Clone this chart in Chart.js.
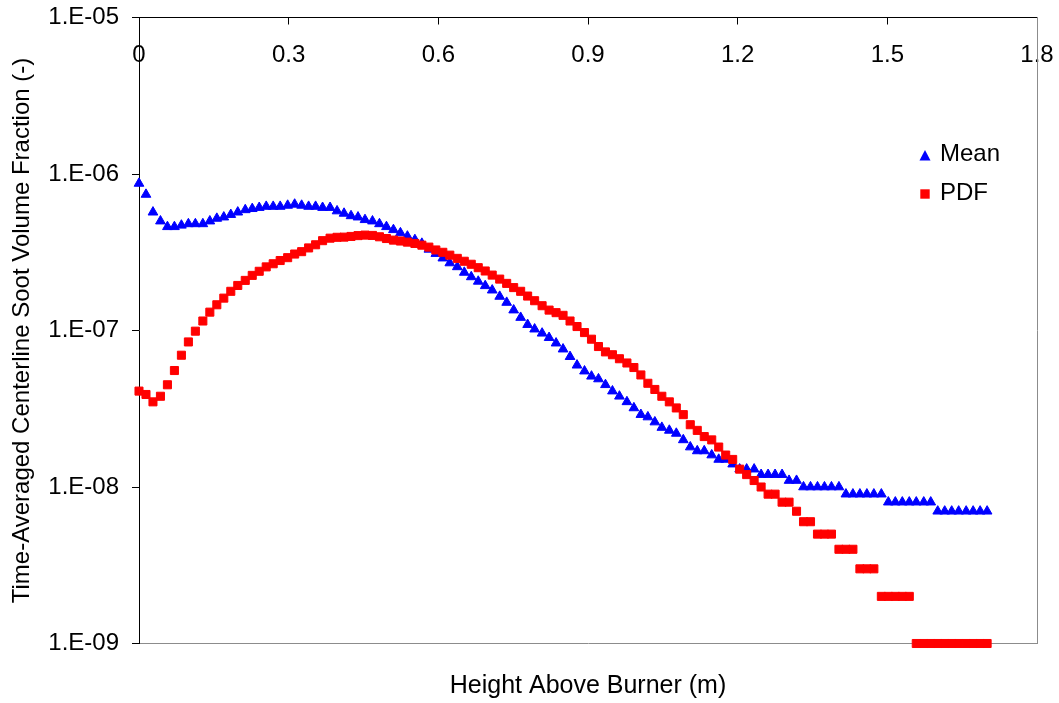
<!DOCTYPE html>
<html>
<head>
<meta charset="utf-8">
<title>Centerline soot volume fraction</title>
<script src="https://cdn.jsdelivr.net/npm/chart.js@4.4.1/dist/chart.umd.min.js"></script>
<style>
    html, body { margin: 0; padding: 0; background: #fff; }
    #wrap { width: 1059px; height: 703px; }
</style>
</head>
<body>
<div id="wrap"><canvas id="sootChart" width="1059" height="703"></canvas></div>
<script>
// Height above burner (m), one entry per marker
var heights = [
    0, 0.014, 0.028, 0.043, 0.057, 0.071, 0.085, 0.099, 0.113, 0.128,
    0.142, 0.156, 0.170, 0.184, 0.198, 0.213, 0.227, 0.241, 0.255, 0.269,
    0.283, 0.298, 0.312, 0.326, 0.340, 0.354, 0.368, 0.383, 0.397, 0.411,
    0.425, 0.439, 0.453, 0.468, 0.482, 0.496, 0.510, 0.524, 0.538, 0.553,
    0.567, 0.581, 0.595, 0.609, 0.623, 0.638, 0.652, 0.666, 0.680, 0.694,
    0.708, 0.723, 0.737, 0.751, 0.765, 0.779, 0.793, 0.808, 0.822, 0.836,
    0.850, 0.864, 0.878, 0.893, 0.907, 0.921, 0.935, 0.949, 0.963, 0.978,
    0.992, 1.006, 1.020, 1.034, 1.048, 1.063, 1.077, 1.091, 1.105, 1.119,
    1.133, 1.148, 1.162, 1.176, 1.190, 1.204, 1.218, 1.233, 1.247, 1.261,
    1.275, 1.289, 1.303, 1.318, 1.332, 1.346, 1.360, 1.374, 1.388, 1.403,
    1.417, 1.431, 1.445, 1.459, 1.473, 1.488, 1.502, 1.516, 1.530, 1.544,
    1.558, 1.573, 1.587, 1.601, 1.615, 1.629, 1.643, 1.658, 1.672, 1.686,
    1.700
];

var meanSoot = [
    8.7e-7, 7.4e-7, 5.7e-7, 5.0e-7, 4.6e-7, 4.6e-7, 4.7e-7, 4.8e-7, 4.8e-7, 4.8e-7,
    5.0e-7, 5.2e-7, 5.3e-7, 5.5e-7, 5.7e-7, 5.9e-7, 6.0e-7, 6.1e-7, 6.2e-7, 6.2e-7,
    6.2e-7, 6.3e-7, 6.4e-7, 6.3e-7, 6.2e-7, 6.2e-7, 6.1e-7, 6.1e-7, 5.8e-7, 5.6e-7,
    5.4e-7, 5.3e-7, 5.1e-7, 5.0e-7, 4.8e-7, 4.6e-7, 4.4e-7, 4.2e-7, 4.0e-7, 3.8e-7,
    3.6e-7, 3.3e-7, 3.1e-7, 2.9e-7, 2.7e-7, 2.55e-7, 2.35e-7, 2.2e-7, 2.06e-7, 1.93e-7,
    1.81e-7, 1.65e-7, 1.51e-7, 1.35e-7, 1.21e-7, 1.09e-7, 1.02e-7, 9.6e-8, 9.0e-8, 8.3e-8,
    7.6e-8, 6.8e-8, 6.0e-8, 5.5e-8, 5.1e-8, 4.9e-8, 4.5e-8, 4.1e-8, 3.8e-8, 3.5e-8,
    3.2e-8, 2.9e-8, 2.8e-8, 2.6e-8, 2.4e-8, 2.3e-8, 2.2e-8, 2.0e-8, 1.8e-8, 1.7e-8,
    1.7e-8, 1.6e-8, 1.5e-8, 1.5e-8, 1.4e-8, 1.3e-8, 1.3e-8, 1.3e-8, 1.2e-8, 1.2e-8,
    1.2e-8, 1.2e-8, 1.1e-8, 1.1e-8, 1.0e-8, 1.0e-8, 1.0e-8, 1.0e-8, 1.0e-8, 1.0e-8,
    9e-9, 9e-9, 9e-9, 9e-9, 9e-9, 9e-9, 8e-9, 8e-9, 8e-9, 8e-9,
    8e-9, 8e-9, 8e-9, 7e-9, 7e-9, 7e-9, 7e-9, 7e-9, 7e-9, 7e-9,
    7e-9
];

var pdfSoot = [
    4.1e-8, 3.9e-8, 3.5e-8, 3.8e-8, 4.5e-8, 5.55e-8, 6.95e-8, 8.45e-8, 9.9e-8, 1.15e-7,
    1.31e-7, 1.46e-7, 1.61e-7, 1.78e-7, 1.94e-7, 2.09e-7, 2.25e-7, 2.39e-7, 2.55e-7, 2.67e-7,
    2.8e-7, 2.92e-7, 3.08e-7, 3.19e-7, 3.37e-7, 3.53e-7, 3.75e-7, 3.89e-7, 3.94e-7, 3.95e-7,
    3.99e-7, 4.04e-7, 4.07e-7, 4.05e-7, 3.97e-7, 3.87e-7, 3.78e-7, 3.73e-7, 3.67e-7, 3.6e-7,
    3.51e-7, 3.41e-7, 3.27e-7, 3.16e-7, 3.03e-7, 2.89e-7, 2.77e-7, 2.65e-7, 2.52e-7, 2.4e-7,
    2.26e-7, 2.13e-7, 2.0e-7, 1.88e-7, 1.78e-7, 1.66e-7, 1.55e-7, 1.44e-7, 1.35e-7, 1.3e-7,
    1.25e-7, 1.15e-7, 1.06e-7, 9.7e-8, 8.8e-8, 7.9e-8, 7.3e-8, 7.0e-8, 6.6e-8, 6.2e-8,
    5.8e-8, 5.2e-8, 4.6e-8, 4.2e-8, 3.8e-8, 3.5e-8, 3.2e-8, 2.9e-8, 2.5e-8, 2.3e-8,
    2.1e-8, 2.0e-8, 1.8e-8, 1.6e-8, 1.5e-8, 1.3e-8, 1.2e-8, 1.1e-8, 1.0e-8, 9e-9,
    9e-9, 8e-9, 8e-9, 7e-9, 6e-9, 6e-9, 5e-9, 5e-9, 5e-9, 4e-9,
    4e-9, 4e-9, 3e-9, 3e-9, 3e-9, 2e-9, 2e-9, 2e-9, 2e-9, 2e-9,
    1e-9, 1e-9, 1e-9, 1e-9, 1e-9, 1e-9, 1e-9, 1e-9, 1e-9, 1e-9,
    1e-9
];

var seriesNames = ['Mean', 'PDF'];
var xTicks = [0, 0.3, 0.6, 0.9, 1.2, 1.5, 1.8];
var xTickLabels = ['0', '0.3', '0.6', '0.9', '1.2', '1.5', '1.8'];
var yTicks = [1e-9, 1e-8, 1e-7, 1e-6, 1e-5];
var yTickLabels = ['1.E-09', '1.E-08', '1.E-07', '1.E-06', '1.E-05'];

(function () {
    var FONT = "'Liberation Sans', Arial, sans-serif";
    var FONT_SIZE = 24;
    var BLUE = '#0000ff';
    var RED = '#ff0000';
    var FRAME_GREY = '#8c8c8c';

    Chart.defaults.font.family = FONT;
    Chart.defaults.font.size = FONT_SIZE;
    Chart.defaults.color = '#000';

    function points(values) {
        return heights.map(function (h, i) { return { x: h, y: values[i] }; });
    }

    function fixedTicks(values) {
        return function (scale) {
            scale.ticks = values.map(function (v) { return { value: v }; });
        };
    }

    // pin an axis box to a fixed size and stop its labels from pushing the plot area in
    function pinSize(prop, size) {
        return function (s) {
            s[prop] = size;
            s.paddingLeft = s.paddingRight = s.paddingTop = s.paddingBottom = 0;
        };
    }

    // legend sits inside the plot area, top right, like the Excel original
    var insetLegend = {
        id: 'insetLegend',
        afterDraw: function (chart) {
            var ctx = chart.ctx;
            var area = chart.chartArea;
            var x = area.right - 112;
            ctx.save();
            ctx.font = FONT_SIZE + 'px ' + FONT;
            ctx.textBaseline = 'middle';
            chart.data.datasets.forEach(function (ds, i) {
                var y = area.top + 138 + i * 38.5;
                ctx.fillStyle = ds.backgroundColor;
                ctx.beginPath();
                if (ds.pointStyle === 'triangle') {
                    ctx.moveTo(x, y - 5.5);
                    ctx.lineTo(x + 5.5, y + 5);
                    ctx.lineTo(x - 5.5, y + 5);
                    ctx.closePath();
                } else {
                    ctx.rect(x - 4.7, y - 4.7, 9.4, 9.4);
                }
                ctx.fill();
                ctx.fillStyle = '#000';
                ctx.fillText(ds.label, x + 15, y - 1);
            });
            ctx.restore();
        }
    };

    var el = document.getElementById('sootChart');
    new Chart(el, {
        type: 'scatter',
        data: {
            datasets: [
                {
                    label: seriesNames[0],
                    data: points(meanSoot),
                    pointStyle: 'triangle',
                    pointRadius: 5.6,
                    borderWidth: 1,
                    backgroundColor: BLUE,
                    borderColor: BLUE,
                    showLine: false,
                    clip: false,
                    order: 1
                },
                {
                    label: seriesNames[1],
                    data: points(pdfSoot),
                    pointStyle: 'rect',
                    pointRadius: 5.7,
                    borderWidth: 1,
                    backgroundColor: RED,
                    borderColor: RED,
                    showLine: false,
                    clip: false,
                    order: 0
                }
            ]
        },
        options: {
            responsive: false,
            animation: false,
            devicePixelRatio: 1,
            layout: { padding: 0 },
            plugins: {
                legend: { display: false },
                tooltip: { enabled: false }
            },
            scales: {
                x: {
                    type: 'linear',
                    position: 'top',
                    min: 0,
                    max: 1.8,
                    afterBuildTicks: fixedTicks(xTicks),
                    afterFit: pinSize('height', 17.5),
                    ticks: {
                        mirror: true,
                        padding: 23,
                        autoSkip: false,
                        maxRotation: 0,
                        callback: function (v, i) { return xTickLabels[i]; }
                    },
                    grid: { drawOnChartArea: false, tickLength: -7, color: '#000', lineWidth: 1 },
                    border: { color: '#000', width: 1 }
                },
                xBottom: {
                    type: 'linear',
                    position: 'bottom',
                    min: 0,
                    max: 1.8,
                    afterFit: pinSize('height', 59.5),
                    ticks: { display: false },
                    grid: { display: false },
                    border: { color: FRAME_GREY, width: 1 },
                    title: {
                        display: true,
                        text: 'Height Above Burner (m)',
                        font: { size: 25 },
                        padding: { top: 0, bottom: 2 }
                    }
                },
                y: {
                    type: 'logarithmic',
                    position: 'left',
                    min: 1e-9,
                    max: 1e-5,
                    afterBuildTicks: fixedTicks(yTicks),
                    afterFit: pinSize('width', 139),
                    ticks: {
                        padding: 13,
                        autoSkip: false,
                        callback: function (v, i) { return yTickLabels[i]; }
                    },
                    grid: { drawOnChartArea: false, tickLength: 7, color: '#000', lineWidth: 1 },
                    border: { color: '#000', width: 1 },
                    title: {
                        display: true,
                        text: 'Time-Averaged Centerline Soot Volume Fraction (-)',
                        font: { size: 24 },
                        padding: { top: 7.5, bottom: 0 }
                    }
                },
                yRight: {
                    type: 'linear',
                    position: 'right',
                    min: 0,
                    max: 1,
                    afterFit: pinSize('width', 22),
                    ticks: { display: false },
                    grid: { display: false },
                    border: { color: FRAME_GREY, width: 1 }
                }
            }
        },
        plugins: [insetLegend]
    });
})();
</script>
</body>
</html>
